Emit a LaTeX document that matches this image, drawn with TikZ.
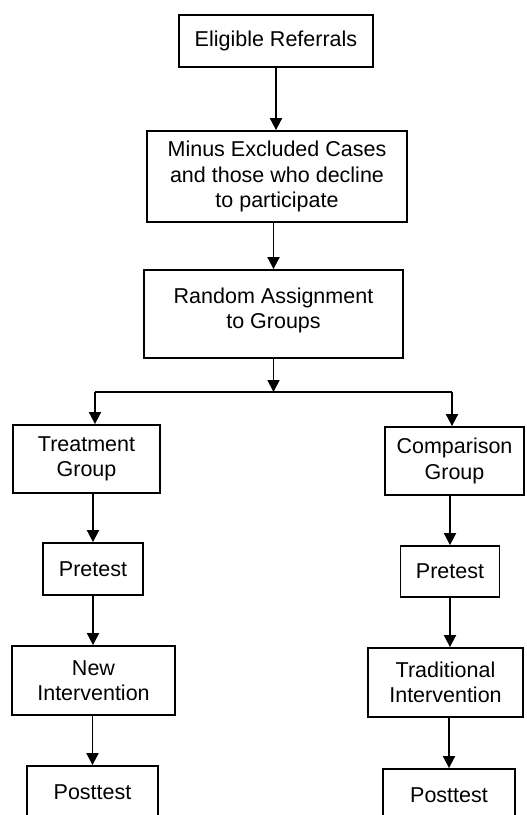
\documentclass[tikz,border=0pt]{standalone}
\usepackage{fontspec}
\setmainfont{Liberation Sans}
\usetikzlibrary{arrows.meta}
\tikzset{every picture/.append style={x=1pt, y=-1pt}}
\tikzset{
    box/.style={draw, line width=1.8pt, align=center, inner sep=0pt,
    	font=\fontsize{21.5}{25.5}\selectfont},
    flow/.style={line width=1.8pt, -{Triangle[width=12pt, length=12pt]}}
}

\begin{document}
\begin{tikzpicture}
	\useasboundingbox (0,0) rectangle (527,815);
	\clip (0,0) rectangle (527,815);
	\node [box, minimum width=194pt, minimum height=52pt] (refer) at (276,41) {Eligible Referrals};
	\node [box, minimum width=260pt, minimum height=91pt] (minus) at (277,176.5) {Minus Excluded Cases\\and those who decline\\to participate};
	\node [box, minimum width=259pt, minimum height=88pt, text depth=12pt] (assign) at (273.5,314) {Random Assignment\\to Groups};
	\node [box, minimum width=147pt, minimum height=68pt] (treat) at (86.5,459) {Treatment\\Group};
	\node [box, minimum width=139pt, minimum height=68pt] (comp) at (454.5,461) {Comparison\\Group};
	\node [box, minimum width=100pt, minimum height=52pt] (pre1) at (93,569) {Pretest};
	\node [box, minimum width=99pt, minimum height=51pt] (pre2) at (450,571.5) {Pretest};
	\node [box, minimum width=163pt, minimum height=69pt] (newint) at (93.5,680.5) {New\\Intervention};
	\node [box, minimum width=155pt, minimum height=69pt] (tradint) at (445.5,682.5) {Traditional\\Intervention};
	\node [box, minimum width=131pt, minimum height=52pt] (post1) at (92.5,792) {Posttest};
	\node [box, minimum width=132pt, minimum height=52pt] (post2) at (449,795) {Posttest};
	\coordinate (split) at (273.5,392);
	\coordinate (splitL) at (95,392);
	\coordinate (splitR) at (452,392);
	\draw [flow] (refer.south) -- (refer.south |- minus.north);
	\draw [flow] (minus.south -| assign) -- (assign.north);
	\draw [flow] (assign.south) -- (split);
	\draw [line width=1.8pt] (splitL) -- (splitR);
	\draw [flow] (splitL) -- (splitL |- treat.north);
	\draw [flow] (splitR) -- (splitR |- comp.north);
	\draw [flow] (treat.south -| pre1) -- (pre1.north);
	\draw [flow] (pre1.south) -- (pre1.south |- newint.north);
	\draw [flow] (newint.south -| post1) -- (post1.north);
	\draw [flow] (comp.south -| pre2) -- (pre2.north);
	\draw [flow] (pre2.south) -- (pre2.south |- tradint.north);
	\draw [flow] (tradint.south -| post2) -- (post2.north);
\end{tikzpicture}
\end{document}
